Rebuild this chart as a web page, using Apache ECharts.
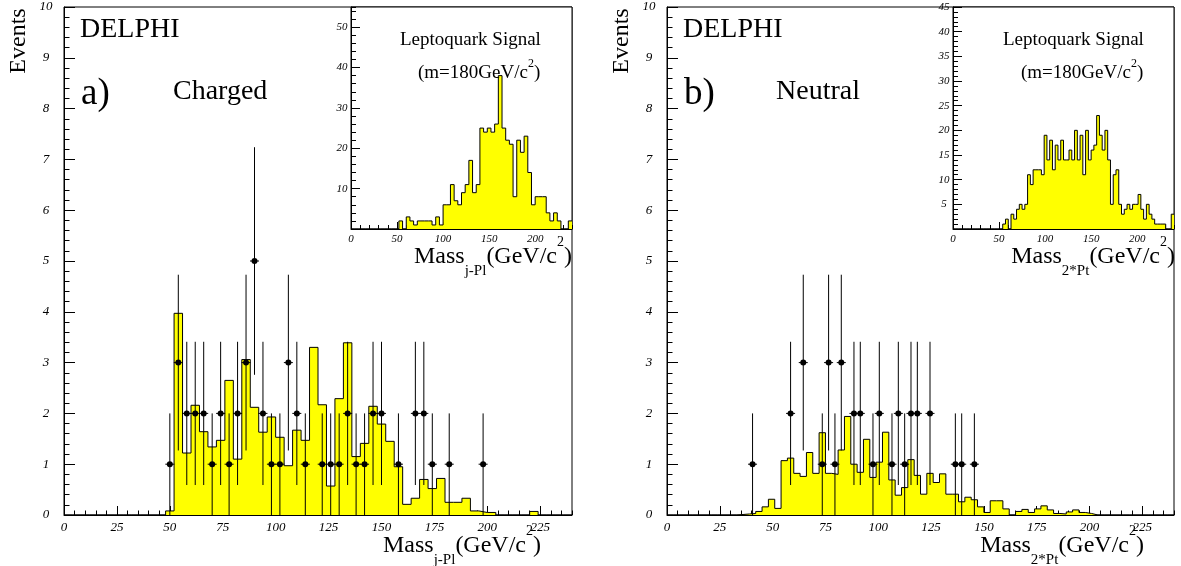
<!DOCTYPE html>
<html><head><meta charset="utf-8">
<script src="https://cdn.jsdelivr.net/npm/echarts@6/dist/echarts.min.js"></script>
<style>html,body{margin:0;padding:0;background:#fff}#c{width:1181px;height:566px}</style>
</head><body><div id="c"></div>
<script>
// ---------------- data ----------------
const binWidthA = 4;   // GeV, charged main + inset
const binWidthB = 3;   // GeV, neutral main + inset
// panel a) background expectation (bins of 4 GeV starting at 0)
const histA = [0,0,0,0,0,0,0,0,0,0,0,0,
  0.08,3.97,1.22,2.16,1.64,1.34,1.47,2.65,1.10,3.06,2.12,1.63,1.93,1.53,0.97,1.67,
  1.47,3.30,2.17,0.57,2.29,3.39,1.15,1.41,2.14,1.79,1.45,0.95,0.21,0.33,0.70,0.52,
  0.72,0.25,0.25,0.33,0.08,0.05,0.05,0,0,0,0,0.07,0,0,0,0];
// panel b) background expectation (bins of 3 GeV starting at 0)
const histB = [0,0,0,0,0,0,0,0,0,0,
  0,0.01,0.02,0.03,0.07,0.16,0.31,0.13,1.07,1.12,0.82,0.76,1.23,0.82,1.62,0.82,0.80,
  1.28,1.94,1.00,0.84,1.49,0.74,1.04,1.63,0.69,0.39,0.54,1.09,0.78,0.41,0.82,0.64,
  0.81,0.41,0.41,0.26,0.35,0.30,0.16,0.05,0.28,0.28,0.12,0,0.07,0.11,0.05,0.12,0.18,
  0.10,0.03,0.02,0.06,0.10,0.05,0.03,
  0,0,0,0,0,0,0,0,0,0,0,0,0];
// leptoquark signal insets
const sigA = [0,0,0,0,0,0,0,0,0,0,0,0,0,
  2,0,3,2,1,2,2,2,2,1,3,1,6,6,11,7,6,9,11,17,9,11,25,24,25,24,26,38,25,22,21,8,
  22,19,23,14,6,8,8,8,4,2,4,2,0,0,2];
const sigB = [0,0,0,0,0,0,0,0,0,0,0,0,0,0,0,0,0,0,
  1,2,0,3,2,4,5,4,5,11,9,12,12,12,11,19,14,18,12,17,14,18,14,14,16,14,20,14,19,11,
  20,14,16,17,23,19,16,20,14,5,11,12,5,3,4,5,4,5,5,7,4,2,5,3,2,1,1,1,1,0,0,3];
// data points (x = bin centre, y = events, err = error bar half length)
const ptsAx = [50,54,58,62,66,70,74,78,82,86,90,94,98,102,106,110,114,122,126,130,134,138,142,146,150,158,166,170,174,182,198];
const ptsAy = [1,3,2,2,2,1,2,1,2,3,5,2,1,1,3,2,1,1,1,1,2,1,1,2,2,1,2,2,1,1,1];
const ptsAerr = [1,1.73,1.41,1.41,1.41,1,1.41,1,1.41,1.73,2.24,1.41,1,1,1.73,1.41,1,1,1,1,1.41,1,1,1.41,1.41,1,1.41,1.41,1,1,1];
const ptsBx = [40.5,58.5,64.5,73.5,76.5,79.5,82.5,88.5,91.5,97.5,100.5,106.5,109.5,112.5,115.5,118.5,124.5,136.5,139.5,145.5];
const ptsBy = [1,2,3,1,3,1,3,2,2,1,2,1,2,1,2,2,2,1,1,1];
const ptsBerr = [1,1.41,1.73,1,1.73,1,1.73,1.41,1.41,1,1.41,1,1.41,1,1.41,1.41,1.41,1,1,1];
// axis ranges / tick steps
const xMax = 240;
const mainXStep = [25, 5], mainYMax = 10, mainYStep = [1, 0.2];
const insetXStep = [50, 10];
const insetAYMax = 55, insetAYStep = [10, 2];
const insetBYMax = 45, insetBYStep = [5, 1];
// texts
const panelTags = ['a)', 'b)'];
const panelNames = ['Charged', 'Neutral'];
const massSubs = ['j-Pl', '2*Pt'];

// ---------------- chart ----------------
const FONT = "'Liberation Serif','Times New Roman',serif";
const chart = echarts.init(document.getElementById('c'));

function stepData(vals, w) {
  const d = vals.map((v, i) => [i * w, v]);
  d.push([vals.length * w, vals[vals.length - 1]]);
  return d;
}
function ptData(xs, ys, es) { return xs.map((x, i) => [x, ys[i], es[i]]); }

const grids = [
  {left: 64, top: 7, width: 508, height: 508},
  {left: 351, top: 7, width: 221, height: 222, backgroundColor: '#fff', z: 5},
  {left: 667, top: 7, width: 507, height: 508},
  {left: 953, top: 7, width: 221, height: 222, backgroundColor: '#fff', z: 5}
].map(g => Object.assign({show: true, borderColor: '#000', borderWidth: 1, containLabel: false, outerBoundsMode: 'none'}, g));

function mkAxis(dim, gi, max, step, tickLen, label, z) {
  const base = {
    type: 'value', gridIndex: gi, min: 0, max: max, interval: step,
    position: dim === 'x' ? 'bottom' : 'left', offset: 0, z: z || 0,
    axisLine: {show: !!label, onZero: false, lineStyle: {color: '#000', width: 1}},
    axisTick: {show: true, inside: true, length: tickLen, lineStyle: {color: '#000', width: 1}},
    splitLine: {show: false}, minorTick: {show: false},
    axisLabel: {show: false}
  };
  if (label) base.axisLabel = Object.assign({show: true, color: '#000', fontFamily: FONT, fontStyle: 'italic', hideOverlap: false}, label);
  return base;
}

const xAxis = [], yAxis = [];
// grid 0 : main a
xAxis.push(mkAxis('x', 0, xMax, mainXStep[0], 9, {fontSize: 13, margin: 6, showMaxLabel: false}));
xAxis.push(mkAxis('x', 0, xMax, mainXStep[1], 4.5));
yAxis.push(mkAxis('y', 0, mainYMax, mainYStep[0], 11, {fontSize: 13, margin: 18, align: 'center'}));
yAxis.push(mkAxis('y', 0, mainYMax, mainYStep[1], 5.5));
// grid 1 : inset a
xAxis.push(mkAxis('x', 1, xMax, insetXStep[0], 7, {fontSize: 11, margin: 5, showMaxLabel: false}, 6));
xAxis.push(mkAxis('x', 1, xMax, insetXStep[1], 4, null, 6));
yAxis.push(mkAxis('y', 1, insetAYMax, insetAYStep[0], 9, {fontSize: 11, margin: 9, align: 'center', showMinLabel: false, showMaxLabel: false}, 6));
yAxis.push(mkAxis('y', 1, insetAYMax, insetAYStep[1], 5, null, 6));
// grid 2 : main b
xAxis.push(mkAxis('x', 2, xMax, mainXStep[0], 9, {fontSize: 13, margin: 6, showMaxLabel: false}));
xAxis.push(mkAxis('x', 2, xMax, mainXStep[1], 4.5));
yAxis.push(mkAxis('y', 2, mainYMax, mainYStep[0], 11, {fontSize: 13, margin: 18, align: 'center'}));
yAxis.push(mkAxis('y', 2, mainYMax, mainYStep[1], 5.5));
// grid 3 : inset b
xAxis.push(mkAxis('x', 3, xMax, insetXStep[0], 7, {fontSize: 11, margin: 5, showMaxLabel: false}, 6));
xAxis.push(mkAxis('x', 3, xMax, insetXStep[1], 4, null, 6));
yAxis.push(mkAxis('y', 3, insetBYMax, insetBYStep[0], 9, {fontSize: 11, margin: 9, align: 'center', showMinLabel: false}, 6));
yAxis.push(mkAxis('y', 3, insetBYMax, insetBYStep[1], 5, null, 6));

function histSeries(vals, w, ax, z) {
  return {
    type: 'line', xAxisIndex: ax, yAxisIndex: ax, data: stepData(vals, w), step: 'end',
    symbol: 'none', showSymbol: false, silent: true, animation: false, z: z,
    lineStyle: {color: '#000', width: 1},
    areaStyle: {color: '#ffff00', opacity: 1}
  };
}
function renderPt(params, api) {
  const x = api.value(0), y = api.value(1), e = api.value(2);
  const c = api.coord([x, y]);
  const t = api.coord([x, y + e]);
  const b = api.coord([x, Math.max(0, y - e)]);
  return {type: 'group', children: [
    {type: 'line', shape: {x1: c[0], y1: t[1], x2: c[0], y2: b[1]}, style: {stroke: '#000', lineWidth: 1}},
    {type: 'line', shape: {x1: c[0] - 4.5, y1: c[1], x2: c[0] + 4.5, y2: c[1]}, style: {stroke: '#000', lineWidth: 1}},
    {type: 'circle', shape: {cx: c[0], cy: c[1], r: 3}, style: {fill: '#000'}}
  ]};
}
function ptSeries(xs, ys, es, ax) {
  return {type: 'custom', xAxisIndex: ax, yAxisIndex: ax, data: ptData(xs, ys, es),
    renderItem: renderPt, silent: true, animation: false, z: 4};
}

const series = [
  histSeries(histA, binWidthA, 0, 2),
  ptSeries(ptsAx, ptsAy, ptsAerr, 0),
  histSeries(sigA, binWidthA, 2, 7),
  histSeries(histB, binWidthB, 4, 2),
  ptSeries(ptsBx, ptsBy, ptsBerr, 4),
  histSeries(sigB, binWidthB, 6, 7)
];

function txt(x, y, text, size, opt) {
  return Object.assign({type: 'text', x: x, y: y, z: 100, silent: true,
    style: Object.assign({text: text, font: size + 'px ' + FONT, fill: '#000', align: 'left', verticalAlign: 'middle'}, opt && opt.style || {})},
    opt && opt.el || {});
}
function massTitle(x, y, sub, align) {
  return {type: 'text', x: x, y: y, z: 100, silent: true, style: {
    text: '{m|Mass}{s|' + sub + '}{m|(GeV/c}{p|2}{m|)}', align: align, verticalAlign: 'middle', fill: '#000',
    rich: {
      m: {fontSize: 24, fontFamily: FONT, lineHeight: 44, fill: '#000'},
      s: {fontSize: 15, fontFamily: FONT, lineHeight: 22, verticalAlign: 'bottom', fill: '#000'},
      p: {fontSize: 14, fontFamily: FONT, lineHeight: 20, verticalAlign: 'top', fill: '#000'}
    }}};
}
function mTitle(x, y) {
  return {type: 'text', x: x, y: y, z: 100, silent: true, style: {
    text: '{m|(m=180GeV/c}{p|2}{m|)}', align: 'left', verticalAlign: 'middle', fill: '#000',
    rich: {
      m: {fontSize: 19, fontFamily: FONT, lineHeight: 30, fill: '#000'},
      p: {fontSize: 12, fontFamily: FONT, lineHeight: 14, verticalAlign: 'top', fill: '#000'}
    }}};
}

const graphic = [];
[0, 603].forEach((dx, k) => {
  graphic.push(txt(19 + dx, 41, 'Events', 24, {el: {rotation: Math.PI / 2}, style: {align: 'center'}}));
  graphic.push(txt(80 + dx, 30, 'DELPHI', 28));
  graphic.push(txt(81 + dx, 94, panelTags[k], 37));
  graphic.push(txt(173 + dx, 92, panelNames[k], 28));
  graphic.push(txt(400 + dx, 40, 'Leptoquark Signal', 19));
  graphic.push(mTitle(418 + dx, 73));
  graphic.push(massTitle(541 + dx, 546, massSubs[k], 'right'));
  graphic.push(massTitle(572 + dx, 257, massSubs[k], 'right'));
});

chart.setOption({
  animation: false,
  backgroundColor: '#fff',
  grid: grids, xAxis: xAxis, yAxis: yAxis, series: series, graphic: graphic
});
</script></body></html>
